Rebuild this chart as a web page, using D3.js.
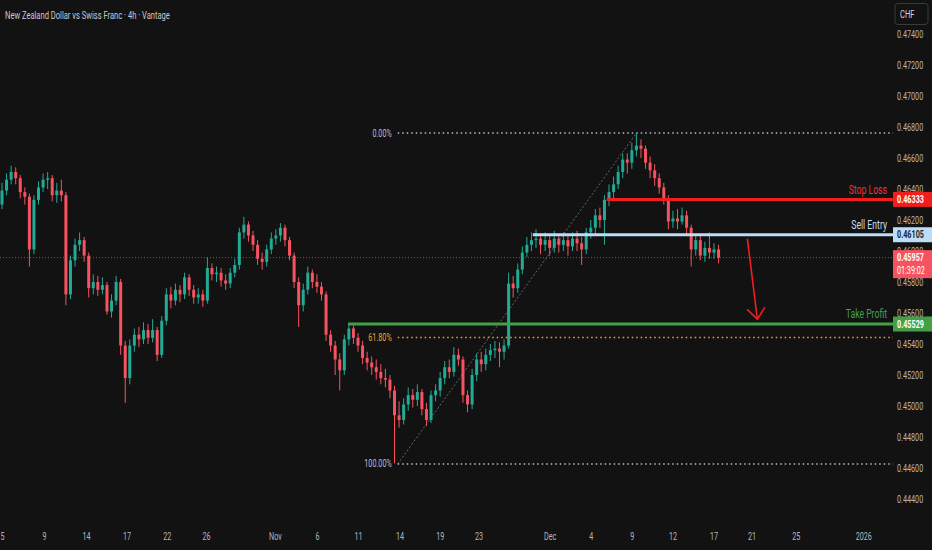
<!DOCTYPE html>
<html>
<head>
<meta charset="utf-8">
<script src="https://cdn.jsdelivr.net/npm/d3@7"></script>
<style>
  html, body { margin: 0; padding: 0; background: #121212; }
  svg { display: block; font-family: Roboto, "Noto Sans", sans-serif; }
</style>
</head>
<body>
<svg id="chart" width="932" height="550"></svg>
<script>
// NZDCHF, 8h bars (open of each bar = previous close)
const firstOpen = 0.4630;
const closes = [
  0.4639,0.4646,0.4651,0.4647,0.4638,0.4635,0.4601,0.4633,0.4641,0.4646,
  0.4647,0.4636,0.4639,0.4636,0.4572,0.4594,0.4604,0.4607,0.4597,0.4576,
  0.4580,0.4575,0.4578,0.4561,0.4568,0.4580,0.4539,0.4518,0.4539,0.4546,
  0.4543,0.4549,0.4544,0.4549,0.4533,0.4555,0.4572,0.4568,0.4575,0.4572,
  0.4583,0.4575,0.4570,0.4572,0.4568,0.4589,0.4585,0.4586,0.4581,0.4579,
  0.4586,0.4591,0.4612,0.4617,0.4610,0.4604,0.4595,0.4593,0.4601,0.4608,
  0.4610,0.4615,0.4607,0.4597,0.4580,0.4565,0.4575,0.4586,0.4580,0.4577,
  0.4572,0.4546,0.4539,0.4530,0.4523,0.4543,0.4550,0.4544,0.4539,0.4531,
  0.4528,0.4525,0.4522,0.4518,0.4517,0.4510,0.4494,0.4491,0.4501,0.4507,
  0.4504,0.4509,0.4498,0.4491,0.4507,0.4510,0.4518,0.4525,0.4522,0.4533,
  0.4530,0.4507,0.4501,0.4520,0.4530,0.4527,0.4533,0.4536,0.4537,0.4535,
  0.4539,0.4579,0.4576,0.4588,0.4599,0.4604,0.4607,0.4608,0.4604,0.4607,
  0.4602,0.4608,0.4604,0.4607,0.4603,0.4608,0.4605,0.4601,0.4612,0.4615,
  0.4623,0.4620,0.4633,0.4638,0.4643,0.4651,0.4659,0.4657,0.4665,0.4668,
  0.4666,0.4657,0.4652,0.4647,0.4641,0.4634,0.4619,0.4621,0.4619,0.4623,
  0.4615,0.4601,0.4607,0.4597,0.4602,0.4599,0.4601,0.45957
];
const highs = [
  0.4644,0.4650,0.4655,0.4654,0.4649,0.4641,0.4637,0.4636,0.4645,0.4650,
  0.4651,0.4649,0.4644,0.4646,0.4638,0.4597,0.4608,0.4612,0.4609,0.4599,
  0.4585,0.4584,0.4583,0.4580,0.4572,0.4584,0.4582,0.4542,0.4543,0.4550,
  0.4551,0.4554,0.4553,0.4556,0.4551,0.4558,0.4576,0.4577,0.4579,0.4578,
  0.4586,0.4585,0.4578,0.4576,0.4575,0.4596,0.4592,0.4590,0.4589,0.4585,
  0.4589,0.4595,0.4615,0.4622,0.4619,0.4613,0.4607,0.4599,0.4604,0.4612,
  0.4614,0.4618,0.4617,0.4609,0.4599,0.4583,0.4579,0.4590,0.4588,0.4585,
  0.4580,0.4574,0.4549,0.4542,0.4534,0.4546,0.4553,0.4552,0.4547,0.4542,
  0.4535,0.4532,0.4530,0.4527,0.4524,0.4520,0.4513,0.4503,0.4505,0.4512,
  0.4511,0.4514,0.4511,0.4502,0.4510,0.4514,0.4522,0.4529,0.4530,0.4538,
  0.4537,0.4532,0.4510,0.4524,0.4534,0.4535,0.4537,0.4540,0.4542,0.4541,
  0.4543,0.4586,0.4584,0.4592,0.4603,0.4609,0.4612,0.4614,0.4611,0.4612,
  0.4610,0.4613,0.4611,0.4612,0.4610,0.4612,0.4613,0.4609,0.4615,0.4620,
  0.4627,0.4628,0.4636,0.4643,0.4648,0.4655,0.4663,0.4663,0.4670,0.4676,
  0.4672,0.4668,0.4661,0.4656,0.4650,0.4644,0.4636,0.4626,0.4627,0.4628,
  0.4626,0.4617,0.4611,0.4611,0.4606,0.4612,0.4605,0.4604
];
const lows = [
  0.4627,0.4636,0.4643,0.4643,0.4634,0.4630,0.4590,0.4598,0.4630,0.4638,
  0.4640,0.4632,0.4631,0.4632,0.4565,0.4569,0.4590,0.4600,0.4593,0.4570,
  0.4572,0.4571,0.4572,0.4559,0.4557,0.4565,0.4533,0.4502,0.4514,0.4535,
  0.4538,0.4540,0.4540,0.4541,0.4529,0.4531,0.4552,0.4563,0.4565,0.4567,
  0.4569,0.4571,0.4566,0.4566,0.4564,0.4566,0.4581,0.4580,0.4577,0.4575,
  0.4576,0.4583,0.4588,0.4608,0.4606,0.4600,0.4591,0.4588,0.4590,0.4598,
  0.4604,0.4606,0.4603,0.4594,0.4576,0.4551,0.4561,0.4572,0.4576,0.4573,
  0.4568,0.4542,0.4535,0.4520,0.4510,0.4520,0.4539,0.4540,0.4535,0.4527,
  0.4523,0.4520,0.4517,0.4514,0.4512,0.4505,0.4463,0.4486,0.4488,0.4497,
  0.4499,0.4500,0.4494,0.4487,0.4489,0.4503,0.4506,0.4514,0.4518,0.4519,
  0.4526,0.4502,0.4496,0.4498,0.4516,0.4522,0.4523,0.4529,0.4531,0.4525,
  0.4530,0.4537,0.4570,0.4573,0.4585,0.4596,0.4600,0.4602,0.4598,0.4600,
  0.4597,0.4599,0.4599,0.4600,0.4597,0.4600,0.4600,0.4591,0.4598,0.4608,
  0.4611,0.4615,0.4604,0.4629,0.4634,0.4640,0.4647,0.4650,0.4653,0.4661,
  0.4660,0.4653,0.4647,0.4642,0.4637,0.4630,0.4614,0.4615,0.4614,0.4617,
  0.4611,0.4590,0.4597,0.4594,0.4593,0.4595,0.4595,0.4592
];

// time axis: bar index of each date label
const tickLabels = ['5','9','14','17','22','26','Nov','6','11','14','19','23','Dec','4','9','12','17','21','25','2026'];
const tickBars = [0, 9.2, 18.4, 27.3, 36.1, 44.7, 59.8, 69, 78, 87.1, 95.9, 104.4, 120, 129, 138, 146.9, 155.9, 164.2, 173.9, 188.7];

// fibonacci retracement (swing low -> swing high)
const fibLowBar = 86.7, fibHighBar = 139;
const fibLow = 0.44626, fibHigh = 0.46761;
const fibRatios = [0, 0.618, 1];
const fibNames = ['0.00%', '61.80%', '100.00%'];

// trade levels
const levelNames = ['Stop Loss', 'Sell Entry', 'Take Profit'];
const levelPrices = [0.46333, 0.46105, 0.45529];
const levelStartBars = [132.5, 116.3, 75.8];

const lastPrice = 0.45957;
const countdown = '01:39:02';
const arrowBars = [163.3, 165.5];
const arrowPrices = [0.4608, 0.4556];

const W = 932, H = 550;
const plotRight = 893;
const SQUEEZE = 0.72;   // the reference uses a narrow face

const svg = d3.select('#chart');
svg.append('rect').attr('width', W).attr('height', H).attr('fill', '#121212');

const x = d3.scaleLinear().domain([0, 195]).range([2, 892]);
const y = d3.scaleLinear().domain([0.444, 0.474]).range([499, 34]);

const candles = closes.map((c, i) => ({
    i,
    open: i === 0 ? firstOpen : closes[i - 1],
    close: c,
    high: highs[i],
    low: lows[i]
}));

const UP = '#22ab94', DOWN = '#f7525f';

// Y axis (right)
const yAxis = svg.append('g')
    .attr('transform', `translate(${plotRight + 4},0)`)
    .call(d3.axisRight(y)
        .tickValues(d3.range(0.444, 0.4745, 0.002))
        .tickSize(0)
        .tickPadding(0)
        .tickFormat(d => d.toFixed(5)));
yAxis.select('.domain').remove();
yAxis.selectAll('text').attr('fill', '#b2b5be').attr('font-size', 10)
    .attr('font-family', 'Roboto, sans-serif');

// X axis
const xAxis = svg.append('g')
    .attr('transform', 'translate(0,528)')
    .call(d3.axisBottom(x)
        .tickValues(tickBars)
        .tickSize(0)
        .tickPadding(5)
        .tickFormat((d, i) => tickLabels[i]));
xAxis.select('.domain').remove();
xAxis.selectAll('text').attr('fill', '#b2b5be').attr('font-size', 10)
    .attr('font-family', 'Roboto, sans-serif');

// current price dotted line
svg.append('line')
    .attr('x1', 0).attr('x2', plotRight)
    .attr('y1', y(lastPrice)).attr('y2', y(lastPrice))
    .attr('stroke', DOWN).attr('stroke-opacity', 0.7)
    .attr('stroke-width', 1).attr('stroke-dasharray', '1,2');

// Fibonacci
const fibPrice = r => fibHigh - r * (fibHigh - fibLow);
svg.append('line')
    .attr('x1', x(fibLowBar)).attr('y1', y(fibLow))
    .attr('x2', x(fibHighBar)).attr('y2', y(fibHigh))
    .attr('stroke', '#9598a1').attr('stroke-width', 0.8)
    .attr('stroke-dasharray', '2,2').attr('opacity', 0.8);

fibRatios.forEach((r, k) => {
    const col = r === 0.618 ? '#f2a33a' : '#b8bcd6';
    svg.append('line')
        .attr('x1', x(fibLowBar)).attr('x2', plotRight)
        .attr('y1', y(fibPrice(r))).attr('y2', y(fibPrice(r)))
        .attr('stroke', col).attr('stroke-width', 1.5)
        .attr('stroke-dasharray', '1.5,3');
    svg.append('text')
        .attr('x', x(fibLowBar) - 6).attr('y', y(fibPrice(r)))
        .attr('dy', '0.35em').attr('text-anchor', 'end')
        .attr('font-size', 10).attr('fill', col)
        .text(fibNames[k]);
});

// Candles
const cg = svg.append('g').selectAll('g')
    .data(candles).enter().append('g')
    .attr('transform', d => `translate(${x(d.i)},0)`)
    .attr('fill', d => d.close >= d.open ? UP : DOWN)
    .attr('stroke', d => d.close >= d.open ? UP : DOWN);

cg.append('line')
    .attr('x1', 0).attr('x2', 0)
    .attr('y1', d => y(d.high)).attr('y2', d => y(d.low))
    .attr('stroke-width', 1);

cg.append('rect')
    .attr('x', -1.5).attr('width', 3)
    .attr('stroke', 'none')
    .attr('y', d => y(Math.max(d.open, d.close)))
    .attr('height', d => Math.max(1, Math.abs(y(d.open) - y(d.close))));

// Trade levels
const levelColors = ['#f21d1d', '#bcdcf7', '#43a047'];
const labelColors = ['#f23030', '#c9def2', '#43a047'];
const boxText = ['#ffffff', '#1b2430', '#ffffff'];

levelPrices.forEach((p, k) => {
    svg.append('line')
        .attr('x1', x(levelStartBars[k])).attr('x2', plotRight)
        .attr('y1', y(p)).attr('y2', y(p))
        .attr('stroke', levelColors[k]).attr('stroke-width', 3);
    svg.append('text')
        .attr('x', 887).attr('y', y(p) - 10)
        .attr('dy', '0.35em').attr('text-anchor', 'end')
        .attr('font-size', 12).attr('fill', labelColors[k])
        .text(levelNames[k]);
});

// Arrow
svg.append('defs').append('marker')
    .attr('id', 'head')
    .attr('viewBox', '-14 -10 16 20')
    .attr('refX', 0).attr('refY', 0)
    .attr('markerWidth', 16).attr('markerHeight', 20)
    .attr('markerUnits', 'userSpaceOnUse')
    .attr('orient', 'auto')
    .append('path')
    .attr('d', 'M-11,-9L0,0L-11,9')
    .attr('fill', 'none').attr('stroke', '#f21d1d').attr('stroke-width', 1.6);

svg.append('path')
    .datum(arrowBars.map((b, i) => [b, arrowPrices[i]]))
    .attr('d', d3.line().x(d => x(d[0])).y(d => y(d[1])))
    .attr('stroke', '#f21d1d').attr('stroke-width', 1.6)
    .attr('fill', 'none').attr('marker-end', 'url(#head)');

// Price boxes on the axis
function priceBox(p, fill, txt, extra) {
    const yc = y(p);
    const h = extra ? 28 : 15;
    svg.append('rect')
        .attr('x', plotRight).attr('y', yc - 7.5)
        .attr('width', W - plotRight).attr('height', h)
        .attr('fill', fill);
    svg.append('text')
        .attr('x', plotRight + 4).attr('y', yc).attr('dy', '0.35em')
        .attr('font-size', 10).attr('font-weight', 'bold').attr('fill', txt)
        .text(p.toFixed(5));
    if (extra) {
        svg.append('text')
            .attr('x', plotRight + 4).attr('y', yc + 13).attr('dy', '0.35em')
            .attr('font-size', 10).attr('fill', txt)
            .text(extra);
    }
}
priceBox(levelPrices[0], '#f21d1d', boxText[0]);
priceBox(levelPrices[1], '#bcdcf7', boxText[1]);
priceBox(lastPrice, DOWN, '#ffffff', countdown);
priceBox(levelPrices[2], '#43a047', boxText[2]);

// currency badge
svg.append('rect')
    .attr('x', 895).attr('y', 3.5).attr('width', 33).attr('height', 21)
    .attr('rx', 3).attr('fill', '#121212')
    .attr('stroke', '#3a3a3a').attr('stroke-width', 1);
svg.append('text')
    .attr('x', 900).attr('y', 14).attr('dy', '0.35em')
    .attr('font-size', 10.5).attr('fill', '#d1d4dc')
    .text('CHF');

// title
svg.append('text')
    .attr('x', 5).attr('y', 15).attr('dy', '0.35em')
    .attr('font-size', 10.5).attr('fill', '#c8cad0')
    .text('New Zealand Dollar vs Swiss Franc · 4h · Vantage');

// narrow every label to mimic the condensed face of the original
svg.selectAll('text').each(function () {
    const w = this.getComputedTextLength();
    if (w > 0) {
        this.setAttribute('textLength', (w * SQUEEZE).toFixed(1));
        this.setAttribute('lengthAdjust', 'spacingAndGlyphs');
    }
});
</script>
</body>
</html>
